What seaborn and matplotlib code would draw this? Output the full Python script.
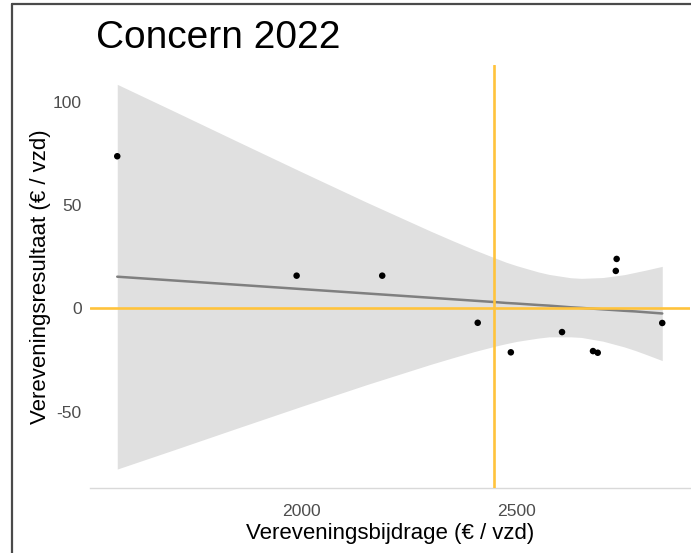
import numpy as np
import pandas as pd
import matplotlib
matplotlib.use("Agg")
import matplotlib.pyplot as plt
from matplotlib.lines import Line2D
import seaborn as sns

# Concern 2022: verevening per concern
bijdrage = [1571, 1988, 2187, 2409, 2486, 2605, 2677, 2688, 2732, 2730, 2838]
resultaat = [73.6, 15.8, 15.8, -7.0, -21.3, -11.5, -20.7, -21.5, 23.9, 18.1, -7.1]

# fitted trend with its confidence band
trend_x = [1571, 1700, 1850, 2000, 2150, 2300, 2350, 2400, 2450, 2475, 2500,
           2550, 2575, 2625, 2650, 2700, 2750, 2775, 2800, 2838]
trend_fit = [15.3, 13.5, 11.4, 9.3, 7.2, 5.1, 4.4, 3.7, 3.0, 2.6, 2.3,
             1.6, 1.3, 0.5, 0.2, -0.5, -1.2, -1.5, -1.9, -2.5]
trend_lo = [-77.8, -68.7, -58.0, -47.4, -37.0, -27.1, -24.0, -21.0, -18.3, -17.1, -16.0,
            -14.4, -13.8, -13.8, -14.1, -15.9, -18.7, -20.4, -22.3, -25.3]
trend_hi = [108.4, 95.7, 80.8, 66.0, 51.4, 37.3, 32.8, 28.4, 24.3, 22.3, 20.6,
            17.6, 16.4, 14.8, 14.5, 14.9, 16.3, 17.4, 18.5, 20.3]

x_ticks = [2000, 2500]
y_ticks = [-50, 0, 50, 100]

title = "Concern 2022"
x_label = "Vereveningsbijdrage (€ / vzd)"
y_label = "Vereveningsresultaat (€ / vzd)"

punten = pd.DataFrame({"bijdrage": bijdrage, "resultaat": resultaat})
trend = pd.DataFrame({"x": trend_x, "fit": trend_fit, "lo": trend_lo, "hi": trend_hi})

sns.set_theme(style="white")
plt.rcParams["font.family"] = ["Liberation Sans", "DejaVu Sans"]
plt.rcParams["axes.unicode_minus"] = False

W, H = 691, 553
fig = plt.figure(figsize=(W / 100, H / 100), dpi=100)
ax = fig.add_axes([90 / W, (H - 488.3) / H, (689.5 - 90) / W, (488.3 - 65.1) / H])

geel = "#FFC33C"

ax.fill_between(trend["x"], trend["lo"], trend["hi"], color="#E0E0E0", lw=0, zorder=1)
sns.lineplot(data=trend, x="x", y="fit", ax=ax, color="#7F7F7F", lw=1.8, zorder=2)
ax.axhline(0, color=geel, lw=1.9, zorder=3)
ax.axvline(np.mean(bijdrage), color=geel, lw=1.9, zorder=3)
sns.scatterplot(data=punten, x="bijdrage", y="resultaat", ax=ax, color="black",
                s=22, edgecolor="none", zorder=4)

# ggplot-like 5% expansion of the data range
def expand(lo, hi, f=0.05):
    r = hi - lo
    return lo - f * r, hi + f * r

ax.set_xlim(*expand(min(trend_x), max(trend_x)))
ax.set_ylim(*expand(min(trend_lo), max(trend_hi)))

ax.set_xticks(x_ticks)
ax.set_yticks(y_ticks)
ax.tick_params(axis="both", length=0, labelsize=12.6, labelcolor="#4D4D4D")
ax.tick_params(axis="x", pad=11)
ax.tick_params(axis="y", pad=6)

for side in ["top", "right", "left"]:
    ax.spines[side].set_visible(False)
ax.spines["bottom"].set_color("#D9D9D9")
ax.spines["bottom"].set_linewidth(1.0)
ax.grid(False)

ax.set_xlabel(x_label, fontsize=16, color="black", labelpad=3)
ax.set_ylabel(y_label, fontsize=16, color="black", labelpad=1)

fig.text(96 / W, 1 - 38 / H, title, fontsize=28, color="black", va="center", ha="left")

# outer frame
fig.add_artist(Line2D([12 / W, 12 / W], [0, 1 - 4 / H], color="#4A4A4A", lw=1.6,
                      transform=fig.transFigure))
fig.add_artist(Line2D([12 / W, 1], [1 - 4 / H, 1 - 4 / H], color="#4A4A4A", lw=1.6,
                      transform=fig.transFigure))

fig.savefig("out.png", dpi=100, facecolor="white")
